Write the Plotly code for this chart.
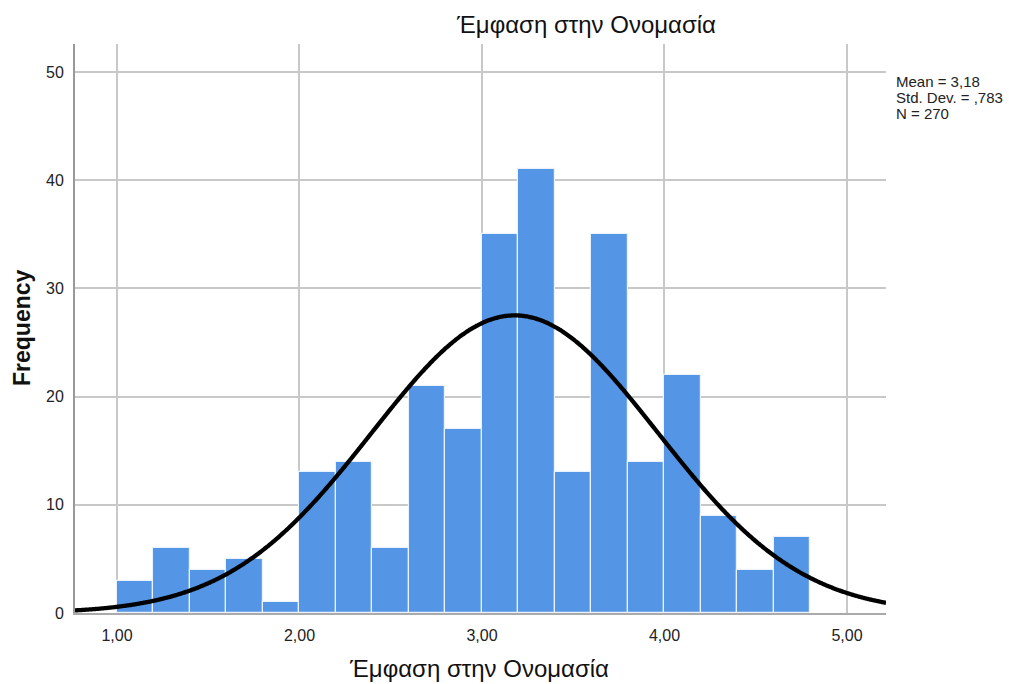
import numpy as np
import plotly.graph_objects as go

bin_starts = [1.0, 1.2, 1.4, 1.6, 1.8, 2.0, 2.2, 2.4, 2.6, 2.8,
              3.0, 3.2, 3.4, 3.6, 3.8, 4.0, 4.2, 4.4, 4.6]
counts = [3, 6, 4, 5, 1, 13, 14, 6, 21, 17,
          35, 41, 13, 35, 14, 22, 9, 4, 7]
bin_width = 0.2
mean = 3.18
sd = 0.783
n = 270
x_tickvals = [1, 2, 3, 4, 5]
x_ticktext = ["1,00", "2,00", "3,00", "4,00", "5,00"]
y_tickvals = [0, 10, 20, 30, 40, 50]
title = "Έμφαση στην Ονομασία"
stats_lines = ["Mean = 3,18", "Std. Dev. = ,783", "N = 270"]

xmin, xmax = 0.77, 5.214
ymin, ymax = 0, 52.6

centers = [s + bin_width / 2 for s in bin_starts]

fig = go.Figure()
fig.add_trace(go.Bar(
    x=centers, y=counts, width=bin_width,
    marker=dict(color="#5595e5", line=dict(color="#eaf2fc", width=1.2)),
    hoverinfo="x+y",
))

xc = np.linspace(xmin, xmax, 600)
yc = n * bin_width * np.exp(-0.5 * ((xc - mean) / sd) ** 2) / (sd * np.sqrt(2 * np.pi))
fig.add_trace(go.Scatter(x=xc, y=yc, mode="lines",
                         line=dict(color="black", width=4.3, simplify=False, shape="spline"),
                         hoverinfo="skip"))

font_family = "Arial, Liberation Sans, sans-serif"
W, H = 1009, 684
L, R, T, B = 75, 886, 44, 613

fig.update_layout(
    width=W, height=H,
    margin=dict(l=L, r=W - R, t=T, b=H - B),
    plot_bgcolor="white", paper_bgcolor="white",
    showlegend=False, bargap=0,
    font=dict(family=font_family, color="#222222"),
    xaxis=dict(range=[xmin, xmax], tickvals=x_tickvals, ticktext=x_ticktext,
               showgrid=True, gridcolor="#c8c8c8", gridwidth=1.5,
               showline=True, linecolor="#aaaaaa", linewidth=2,
               zeroline=False, ticks="", tickfont=dict(size=16, color="#222222"),
               ticklabelstandoff=7),
    yaxis=dict(range=[ymin, ymax], tickvals=y_tickvals,
               showgrid=True, gridcolor="#c8c8c8", gridwidth=1.5,
               showline=True, linecolor="#999999", linewidth=2,
               zeroline=False, ticks="", tickfont=dict(size=16, color="#222222"),
               ticklabelstandoff=6),
)

def px_x(p):
    return (p - L) / (R - L)

def px_y(p):
    return (B - p) / (B - T)

annotations = [
    dict(text=title, x=px_x(586), y=px_y(25), xref="paper", yref="paper",
         showarrow=False, font=dict(size=24, color="#111111"), xanchor="center", yanchor="middle"),
    dict(text=title, x=px_x(479), y=px_y(668), xref="paper", yref="paper",
         showarrow=False, font=dict(size=24, color="#111111"), xanchor="center", yanchor="middle"),
    dict(text="<b>Frequency</b>", x=px_x(22), y=px_y(328), xref="paper", yref="paper",
         showarrow=False, textangle=-90, font=dict(size=23, color="#111111"),
         xanchor="center", yanchor="middle"),
]
for i, line in enumerate(stats_lines):
    annotations.append(dict(text=line, x=px_x(894), y=px_y(82 + 15.5 * i),
                            xref="paper", yref="paper", showarrow=False, align="left",
                            font=dict(size=15, color="#222222"),
                            xanchor="left", yanchor="middle"))
fig.update_layout(annotations=annotations)

fig.write_html("out.html")
